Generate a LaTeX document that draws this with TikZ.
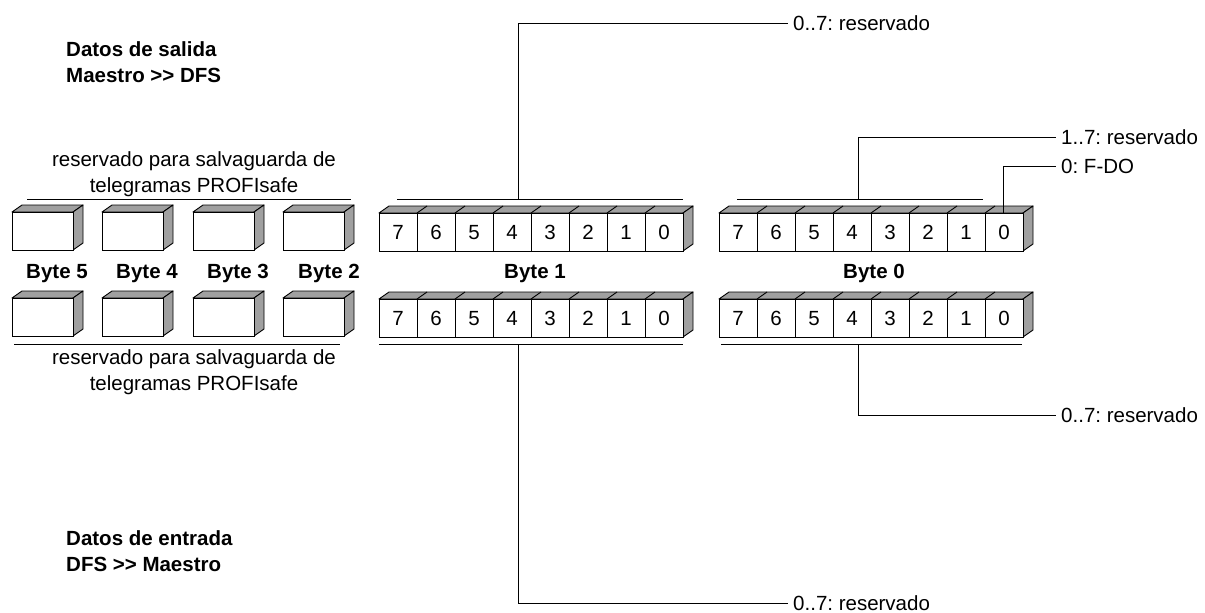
\documentclass[tikz,border=0pt]{standalone}
\usepackage{fontspec}
\setmainfont{Liberation Sans}
\frenchspacing
\definecolor{facegray}{RGB}{160,160,160}
\tikzset{
  every node/.style={font=\fontsize{20.5}{26}\selectfont, inner sep=0pt},
  face/.style={fill=facegray, draw=black, line width=0.9pt, line join=round},
  frontface/.style={fill=white, draw=black, line width=0.9pt},
  conn/.style={draw=black, line width=0.9pt},
  rlabel/.style={anchor=west, inner xsep=5pt, inner ysep=0pt},
  digit/.style={anchor=base},
  bytelabel/.style={anchor=base, font=\fontsize{20.5}{26}\selectfont\bfseries},
  title/.style={anchor=base west, align=left, font=\fontsize{20.5}{26}\selectfont\bfseries},
  note/.style={anchor=base, align=center},
}
% bit row: #1 name, #2 x0, #3 y0 (top of front face)
\newcommand\bitrow[3]{%
  \path[face] (#2,#3) -- ++(10,-7) -- ++(304,0) -- ++(-10,7) -- cycle;
  \path[face] (#2+304,#3) -- ++(10,-7) -- ++(0,38) -- ++(-10,7) -- cycle;
  \path[frontface] (#2,#3) rectangle ++(304,38);
  \foreach \j in {1,...,7} {
    \draw[line width=0.9pt] (#2+\j*38,#3) -- ++(0,38);
    \draw[line width=0.9pt] (#2+\j*38,#3) -- ++(10,-7);
  }
  \foreach \j in {0,...,7} {
    \pgfmathtruncatemacro\dg{7-\j}
    \node[digit] (#1-\dg) at (#2+\j*38+19,#3+26.5) {\dg};
  }
}
% small box: #1 x0, #2 y0
\newcommand\smallbox[2]{%
  \path[face] (#1,#2) -- ++(10,-7) -- ++(61,0) -- ++(-10,7) -- cycle;
  \path[face] (#1+61,#2) -- ++(10,-7) -- ++(0,38) -- ++(-10,7) -- cycle;
  \path[frontface] (#1,#2) rectangle ++(61,38);
}
\begin{document}
\begin{tikzpicture}[x=1pt,y=-1pt]
\useasboundingbox (0,0) rectangle (1205,613);

% titles (base anchor = baseline of last line)
\node[title] (t1) at (66,82) {Datos de salida\\Maestro >\kern0pt> DFS};
\node[title] (t2) at (66,571) {Datos de entrada\\DFS >\kern0pt> Maestro};

% reserved notes
\node[note] (n1) at (194,192) {reservado para salvaguarda de\\telegramas PROFIsafe};
\node[note] (n2) at (194,390) {reservado para salvaguarda de\\telegramas PROFIsafe};
\draw[conn] (27,199) -- (351,199);
\draw[conn] (14,344) -- (340,344);

% small boxes
\foreach \x in {12,102,193,283} {
  \smallbox{\x}{212}
  \smallbox{\x}{298}
}
\node[bytelabel] (by5) at (57,278) {Byte 5};
\node[bytelabel] (by4) at (147,278) {Byte 4};
\node[bytelabel] (by3) at (238,278) {Byte 3};
\node[bytelabel] (by2) at (329,278) {Byte 2};
\node[bytelabel] (by1) at (535,278) {Byte 1};
\node[bytelabel] (by0) at (874,278) {Byte 0};

% bit rows
\bitrow{b1u}{379}{213}
\bitrow{b1d}{379}{299}
\bitrow{b0u}{719}{213}
\bitrow{b0d}{719}{299}

% brackets
\draw[conn] (397,199) -- (683,199);
\draw[conn] (379,344) -- (683,344);
\draw[conn] (737,199) -- (983,199);
\draw[conn] (721,344) -- (1022,344);

\coordinate (c1u) at (518,199);
\coordinate (c1d) at (518,344);
\coordinate (c0u) at (858,199);
\coordinate (c0d) at (858,344);
\coordinate (cfdo) at (1003,213);

% labels
\node[rlabel] (r1) at (788,23) {0..7: reservado};
\node[rlabel] (r2) at (1056,137) {1..7: reservado};
\node[rlabel] (r3) at (1056,166) {0: F-DO};
\node[rlabel] (r4) at (1056,415) {0..7: reservado};
\node[rlabel] (r5) at (788,603) {0..7: reservado};

% connectors
\draw[conn] (c1u) |- (r1.west);
\draw[conn] (c0u) |- (r2.west);
\draw[conn] (cfdo) |- (r3.west);
\draw[conn] (c0d) |- (r4.west);
\draw[conn] (c1d) |- (r5.west);
\end{tikzpicture}
\end{document}
